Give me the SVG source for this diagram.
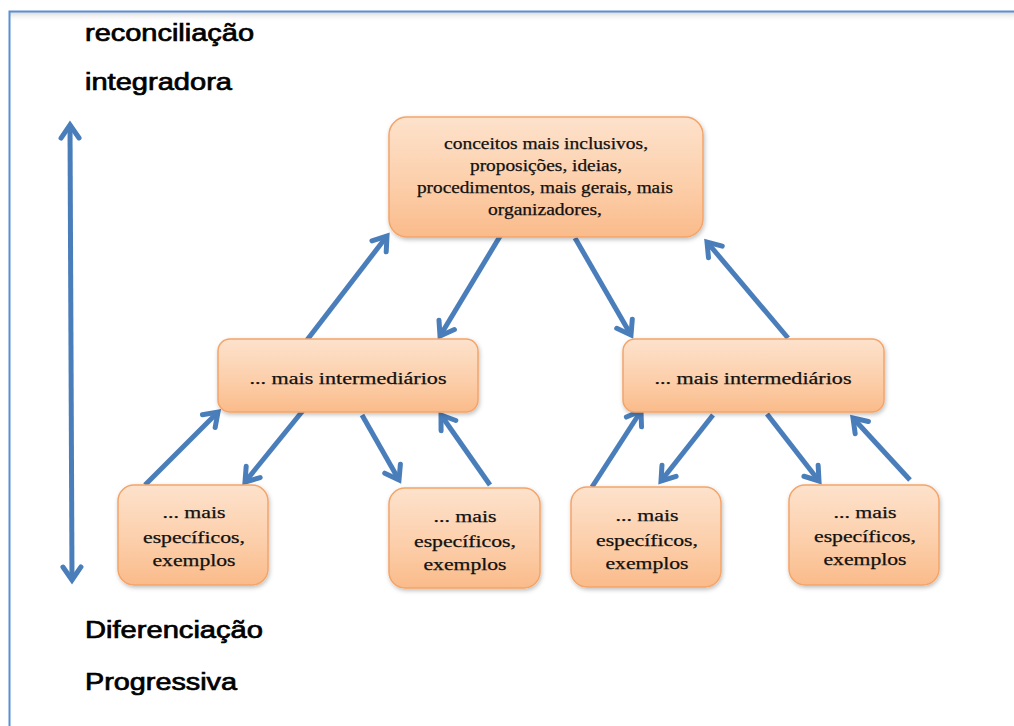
<svg xmlns="http://www.w3.org/2000/svg" width="1014" height="726" viewBox="0 0 1014 726">
<defs>
<linearGradient id="peach" x1="0" y1="0" x2="0" y2="1">
<stop offset="0" stop-color="#fde2cc"/>
<stop offset="0.55" stop-color="#fccfab"/>
<stop offset="1" stop-color="#fabb8a"/>
</linearGradient>
<linearGradient id="topshadow" x1="0" y1="0" x2="0" y2="1">
<stop offset="0" stop-color="#d8d8d8"/>
<stop offset="1" stop-color="#ffffff" stop-opacity="0"/>
</linearGradient>
<filter id="sh" x="-10%" y="-10%" width="120%" height="130%">
<feDropShadow dx="1" dy="2" stdDeviation="2" flood-color="#000" flood-opacity="0.25"/>
</filter>
<marker id="ah" markerUnits="userSpaceOnUse" markerWidth="32" markerHeight="32" viewBox="-20 -16 26 32" refX="0" refY="0" orient="auto-start-reverse">
<path d="M-13,-9 L0,0 L-13,9" fill="none" stroke="#4a7ebb" stroke-width="5" stroke-linecap="round" stroke-linejoin="miter"/>
</marker>
<style>
.box{fill:url(#peach);stroke:#f5a468;stroke-width:1.5;filter:url(#sh)}
.t{font-family:"Liberation Serif","Times New Roman",serif;font-size:16px;fill:#111;stroke:#111;stroke-width:0.25;text-anchor:middle}
.side{font-family:"Liberation Sans",Arial,sans-serif;font-size:23px;fill:#000;stroke:#000;stroke-width:0.7}
.c{stroke:#4a7ebb;stroke-width:5;fill:none;marker-end:url(#ah)}
</style>
</defs>
<rect x="0" y="0" width="1014" height="726" fill="#fff"/>
<rect x="10" y="12" width="1004" height="10" fill="url(#topshadow)"/>
<path d="M9.5,726 V11.5 H1014" fill="none" stroke="#5b8fcf" stroke-width="2"/>

<g id="labels">
<text class="side" x="85" y="41" textLength="169" lengthAdjust="spacingAndGlyphs">reconciliação</text>
<text class="side" x="85" y="90" textLength="147" lengthAdjust="spacingAndGlyphs">integradora</text>
<text class="side" x="85" y="638" textLength="178" lengthAdjust="spacingAndGlyphs">Diferenciação</text>
<text class="side" x="85" y="690" textLength="152" lengthAdjust="spacingAndGlyphs">Progressiva</text>
</g>

<g id="connectors">
<line class="c" x1="72" y1="580" x2="70" y2="125" style="marker-start:url(#ah)"/>
<line class="c" x1="307" y1="340" x2="387" y2="236"/>
<line class="c" x1="502" y1="233" x2="440" y2="336"/>
<line class="c" x1="575" y1="238" x2="631" y2="335"/>
<line class="c" x1="788" y1="338" x2="707" y2="242"/>
<line class="c" x1="145" y1="485" x2="218" y2="412"/>
<line class="c" x1="305" y1="408" x2="245" y2="482"/>
<line class="c" x1="362" y1="415" x2="399" y2="480"/>
<line class="c" x1="490" y1="485" x2="441" y2="415"/>
<line class="c" x1="592" y1="487" x2="641" y2="411"/>
<line class="c" x1="713" y1="415" x2="661" y2="481"/>
<line class="c" x1="767" y1="414" x2="819" y2="481"/>
<line class="c" x1="910" y1="480" x2="853" y2="418"/>
</g>

<g id="n-top">
<rect class="box" x="389" y="117" width="314" height="120" rx="18"/>
<text class="t" x="546" y="149" textLength="204" lengthAdjust="spacingAndGlyphs">conceitos mais inclusivos,</text>
<text class="t" x="546" y="171" textLength="152" lengthAdjust="spacingAndGlyphs">proposições, ideias,</text>
<text class="t" x="545" y="193" textLength="256" lengthAdjust="spacingAndGlyphs">procedimentos, mais gerais, mais</text>
<text class="t" x="545" y="215" textLength="114" lengthAdjust="spacingAndGlyphs">organizadores,</text>
</g>

<g id="n-mid-left">
<rect class="box" x="218" y="339" width="260" height="73" rx="12"/>
<text class="t" x="348" y="384" textLength="197" lengthAdjust="spacingAndGlyphs">... mais intermediários</text>
</g>

<g id="n-mid-right">
<rect class="box" x="623" y="339" width="261" height="73" rx="12"/>
<text class="t" x="753" y="384" textLength="197" lengthAdjust="spacingAndGlyphs">... mais intermediários</text>
</g>

<g id="n-b1">
<rect class="box" x="118" y="485" width="150" height="100" rx="16"/>
<text class="t" x="194" y="518" textLength="63" lengthAdjust="spacingAndGlyphs">... mais</text>
<text class="t" x="194" y="543" textLength="102" lengthAdjust="spacingAndGlyphs">específicos,</text>
<text class="t" x="194" y="566" textLength="83" lengthAdjust="spacingAndGlyphs">exemplos</text>
</g>

<g id="n-b2">
<rect class="box" x="389" y="488" width="151" height="100" rx="16"/>
<text class="t" x="465" y="522" textLength="63" lengthAdjust="spacingAndGlyphs">... mais</text>
<text class="t" x="465" y="547" textLength="102" lengthAdjust="spacingAndGlyphs">específicos,</text>
<text class="t" x="465" y="570" textLength="83" lengthAdjust="spacingAndGlyphs">exemplos</text>
</g>

<g id="n-b3">
<rect class="box" x="571" y="487" width="150" height="100" rx="16"/>
<text class="t" x="647" y="521" textLength="63" lengthAdjust="spacingAndGlyphs">... mais</text>
<text class="t" x="647" y="546" textLength="102" lengthAdjust="spacingAndGlyphs">específicos,</text>
<text class="t" x="647" y="569" textLength="83" lengthAdjust="spacingAndGlyphs">exemplos</text>
</g>

<g id="n-b4">
<rect class="box" x="789" y="485" width="150" height="100" rx="16"/>
<text class="t" x="865" y="518" textLength="63" lengthAdjust="spacingAndGlyphs">... mais</text>
<text class="t" x="865" y="542" textLength="102" lengthAdjust="spacingAndGlyphs">específicos,</text>
<text class="t" x="865" y="565" textLength="83" lengthAdjust="spacingAndGlyphs">exemplos</text>
</g>
</svg>
